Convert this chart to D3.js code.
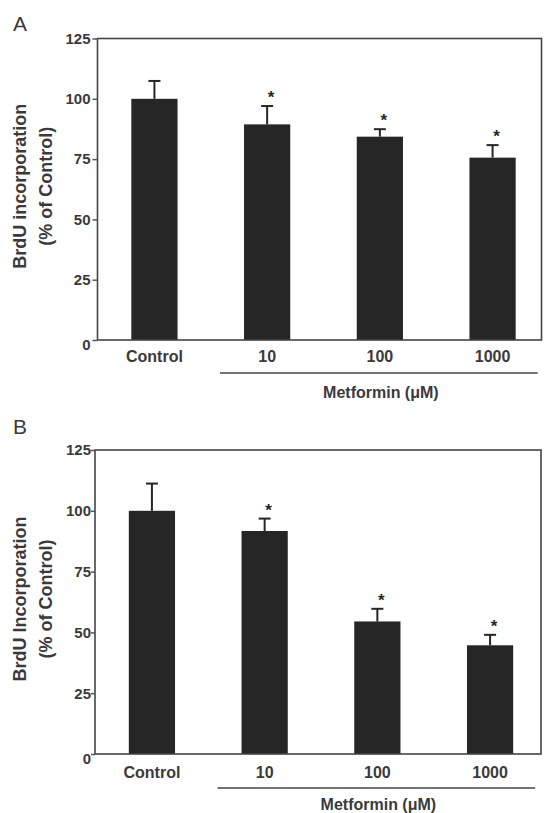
<!DOCTYPE html>
<html>
<head>
<meta charset="utf-8">
<script src="https://cdn.jsdelivr.net/npm/d3@7"></script>
<style>
  html, body { margin: 0; padding: 0; background: #fff; }
  svg { display: block; }
  text { font-family: "Liberation Sans", Arial, Helvetica, sans-serif; }
</style>
</head>
<body>
<svg id="chart" width="545" height="813"></svg>
<script>
// ---- data ----
const categories = ["Control", "10", "100", "1000"];
const yTicks = [0, 25, 50, 75, 100, 125];
const meansA = [100, 89.4, 84.3, 75.6];
const errA   = [7.4, 7.6, 3.1, 5.2];
const meansB = [100, 91.7, 54.5, 44.7];
const errB   = [11.2, 5.1, 5.2, 4.3];
const significant = [false, true, true, true];
const panelLabels = ["A", "B"];
const yTitlesA = ["BrdU incorporation", "(% of Control)"];
const yTitlesB = ["BrdU Incorporation", "(% of Control)"];
const groupLabel = "Metformin (\u03BCM)";

const svg = d3.select("#chart");
const ink = "#3a3a3a";
const barColor = "#262626";

function panel(cfg) {
  const g = svg.append("g").attr("transform", `translate(${cfg.left},${cfg.top})`);
  const W = cfg.width, H = cfg.height;

  const x = d3.scaleBand()
    .domain(categories)
    .range([0, 452])
    .paddingInner(0.59)
    .paddingOuter(0.3)
    .align(0.5);
  const y = d3.scaleLinear().domain([0, 125]).range([H, 0]);

  const data = categories.map((c, i) => ({ c, m: cfg.means[i], e: cfg.errs[i], s: significant[i] }));

  // bars
  g.selectAll("rect.bar").data(data).join("rect")
    .attr("class", "bar")
    .attr("x", d => x(d.c))
    .attr("width", x.bandwidth())
    .attr("y", d => y(d.m))
    .attr("height", d => H - y(d.m))
    .attr("fill", barColor);

  // error bars (upper only)
  const cx = d => x(d.c) + x.bandwidth() / 2;
  g.selectAll("line.err").data(data).join("line")
    .attr("class", "err")
    .attr("x1", cx).attr("x2", cx)
    .attr("y1", d => y(d.m)).attr("y2", d => y(d.m + d.e))
    .attr("stroke", barColor).attr("stroke-width", 2);
  g.selectAll("line.cap").data(data).join("line")
    .attr("class", "cap")
    .attr("x1", d => cx(d) - 6).attr("x2", d => cx(d) + 6)
    .attr("y1", d => y(d.m + d.e)).attr("y2", d => y(d.m + d.e))
    .attr("stroke", barColor).attr("stroke-width", 2);

  // significance stars
  g.selectAll("text.star").data(data.filter(d => d.s)).join("text")
    .attr("class", "star")
    .attr("x", d => cx(d) + 4)
    .attr("y", d => y(d.m + d.e) - 3)
    .attr("text-anchor", "middle")
    .attr("font-size", 17)
    .attr("font-weight", "bold")
    .attr("fill", barColor)
    .text("*");

  // frame
  g.append("rect")
    .attr("x", 0).attr("y", 0).attr("width", W).attr("height", H)
    .attr("fill", "none").attr("stroke", "#444").attr("stroke-width", 1.6);

  // y axis
  const ya = g.append("g").call(
    d3.axisLeft(y).tickValues(yTicks).tickSize(cfg.tickSize).tickPadding(cfg.tickPad)
  );
  ya.select(".domain").remove();
  ya.selectAll(".tick line").attr("stroke", "#555").attr("stroke-width", 1.5);
  ya.selectAll(".tick text")
    .attr("font-size", 15).attr("font-weight", "bold").attr("fill", ink)
    .attr("font-family", "'Liberation Sans', Arial, sans-serif");
  ya.selectAll(".tick").filter(d => d === 0).select("text").attr("dy", "0.65em");

  // x axis labels
  const xa = g.append("g").attr("transform", `translate(0,${H})`)
    .call(d3.axisBottom(x).tickSize(0).tickPadding(cfg.xPad));
  xa.select(".domain").remove();
  xa.selectAll(".tick text")
    .attr("font-size", 16).attr("font-weight", "bold").attr("fill", ink)
    .attr("font-family", "'Liberation Sans', Arial, sans-serif");

  // metformin group line + label
  const lx1 = x("10") - 24;
  const lx2 = x("1000") + x.bandwidth() + 22;
  g.append("line")
    .attr("x1", lx1).attr("x2", lx2)
    .attr("y1", H + cfg.lineOff).attr("y2", H + cfg.lineOff)
    .attr("stroke", "#444").attr("stroke-width", 1.6);
  g.append("text")
    .attr("x", (lx1 + lx2) / 2 + 2)
    .attr("y", H + cfg.lineOff + cfg.labOff)
    .attr("text-anchor", "middle")
    .attr("font-size", 16).attr("font-weight", "bold").attr("fill", ink)
    .text(groupLabel);

  // y axis title (two lines, rotated)
  const tt = g.append("text")
    .attr("transform", `translate(${-cfg.left + 26},${H / 2 - 3}) rotate(-90)`)
    .attr("text-anchor", "middle")
    .attr("font-size", 18).attr("font-weight", "bold").attr("fill", ink);
  tt.append("tspan").attr("x", 0).attr("dy", 0).text(cfg.titles[0]);
  tt.append("tspan").attr("x", 0).attr("dy", 26).text(cfg.titles[1]);

  // panel letter
  svg.append("text")
    .attr("x", 13).attr("y", cfg.letterY)
    .attr("font-size", 21).attr("fill", ink)
    .text(cfg.letter);
}

panel({ left: 97.5, top: 38.5, width: 444, height: 301.5, means: meansA, errs: errA,
        titles: yTitlesA, letter: panelLabels[0], letterY: 31, tickSize: 5, tickPad: 2,
        xPad: 11, lineOff: 33, labOff: 25 });
panel({ left: 95, top: 450, width: 446, height: 304, means: meansB, errs: errB,
        titles: yTitlesB, letter: panelLabels[1], letterY: 434, tickSize: 4, tickPad: 0,
        xPad: 13, lineOff: 34, labOff: 21.5 });
</script>
</body>
</html>
